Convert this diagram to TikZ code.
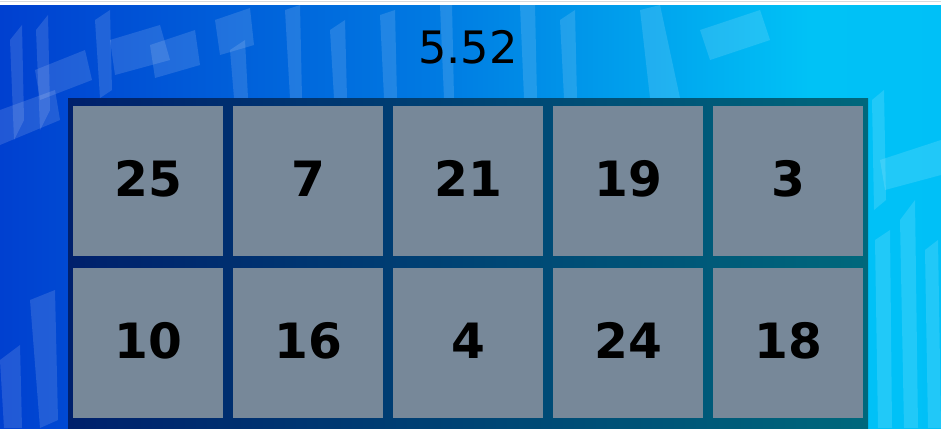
\documentclass[tikz,border=0pt]{standalone}
\usepackage{fontspec}
\newfontfamily\numfont{DejaVu Sans}

\definecolor{bgleft}{RGB}{0,38,188}
\definecolor{bgblue}{RGB}{0,64,208}
\definecolor{bgmid}{RGB}{0,122,226}
\definecolor{bgcyan}{RGB}{0,194,246}
\definecolor{bgright}{RGB}{0,186,252}
\definecolor{frameleft}{RGB}{0,32,108}
\definecolor{frameright}{RGB}{0,104,124}
\definecolor{tilegray}{RGB}{119,136,153}

\pgfdeclarehorizontalshading{bgshade}{100bp}{color(0bp)=(bgleft); color(25bp)=(bgblue);
  color(48bp)=(bgmid); color(68bp)=(bgcyan); color(100bp)=(bgright)}

\tikzset{every picture/.style={line width=0.75pt}}
\tikzset{
  tile/.style={fill=tilegray, inner sep=0pt, minimum size=112.5pt, text depth=3.5pt,
    font=\numfont\bfseries\fontsize{36.5}{40}\selectfont},
  shard/.style={fill=white, fill opacity=0.13, draw=none}
}

\begin{document}
\begin{tikzpicture}[x=0.75pt,y=0.75pt,yscale=-1,xscale=1]
\useasboundingbox (0,0) rectangle (941,428);

%Background
\shade [shading=bgshade] (0,5) rectangle (941,428) ;
%Top strip
\fill [white] (0,0) rectangle (941,5) ;
\draw [color={rgb, 255:red, 215; green, 218; blue, 222 }] (0,2) -- (941,2) ;

%Shards
\fill [shard] (10,40) -- (22,25) -- (24,120) -- (14,140) -- cycle ;
\fill [shard] (36,30) -- (48,15) -- (50,110) -- (40,130) -- cycle ;
\fill [shard] (0,110) -- (55,90) -- (60,120) -- (0,145) -- cycle ;
\fill [shard] (35,70) -- (85,50) -- (92,80) -- (40,100) -- cycle ;
\fill [shard] (0,360) -- (20,345) -- (22,428) -- (4,428) -- cycle ;
\fill [shard] (30,300) -- (55,290) -- (58,420) -- (40,428) -- cycle ;
\fill [shard] (95,20) -- (110,10) -- (112,90) -- (100,98) -- cycle ;
\fill [shard] (110,40) -- (160,25) -- (170,60) -- (115,75) -- cycle ;
\fill [shard] (150,45) -- (195,30) -- (200,65) -- (155,78) -- cycle ;
\fill [shard] (215,20) -- (250,8) -- (254,45) -- (220,55) -- cycle ;
\fill [shard] (230,50) -- (245,40) -- (248,98) -- (234,98) -- cycle ;
\fill [shard] (285,10) -- (300,5) -- (302,98) -- (290,98) -- cycle ;
\fill [shard] (330,30) -- (345,20) -- (347,98) -- (334,98) -- cycle ;
\fill [shard] (380,15) -- (395,10) -- (397,98) -- (384,98) -- cycle ;
\fill [shard] (440,5) -- (452,5) -- (454,98) -- (444,98) -- cycle ;
\fill [shard] (520,5) -- (535,5) -- (537,98) -- (524,98) -- cycle ;
\fill [shard] (560,20) -- (575,10) -- (577,98) -- (564,98) -- cycle ;
\fill [shard] (640,10) -- (660,5) -- (680,98) -- (650,98) -- cycle ;
\fill [shard] (700,30) -- (760,10) -- (770,40) -- (710,60) -- cycle ;
\fill [shard] (880,160) -- (941,140) -- (941,175) -- (885,190) -- cycle ;
\fill [shard] (875,240) -- (890,230) -- (892,428) -- (878,428) -- cycle ;
\fill [shard] (900,220) -- (915,200) -- (918,428) -- (904,428) -- cycle ;
\fill [shard] (925,250) -- (938,240) -- (941,428) -- (928,428) -- cycle ;
\fill [shard] (872,100) -- (884,90) -- (886,200) -- (874,210) -- cycle ;

%Frame
\fill [left color=frameleft, right color=frameright] (68,98) rectangle (868,428) ;

%Score
\node (score) at (468,47) {\numfont\fontsize{33.5}{40}\selectfont 5.52};

%Tiles, upper row
\node [tile] (t11) at (148,181) {25};
\node [tile] (t12) at (308,181) {7};
\node [tile] (t13) at (468,181) {21};
\node [tile] (t14) at (628,181) {19};
\node [tile] (t15) at (788,181) {3};
%Tiles, lower row
\node [tile] (t21) at (148,343) {10};
\node [tile] (t22) at (308,343) {16};
\node [tile] (t23) at (468,343) {4};
\node [tile] (t24) at (628,343) {24};
\node [tile] (t25) at (788,343) {18};

\end{tikzpicture}
\end{document}
